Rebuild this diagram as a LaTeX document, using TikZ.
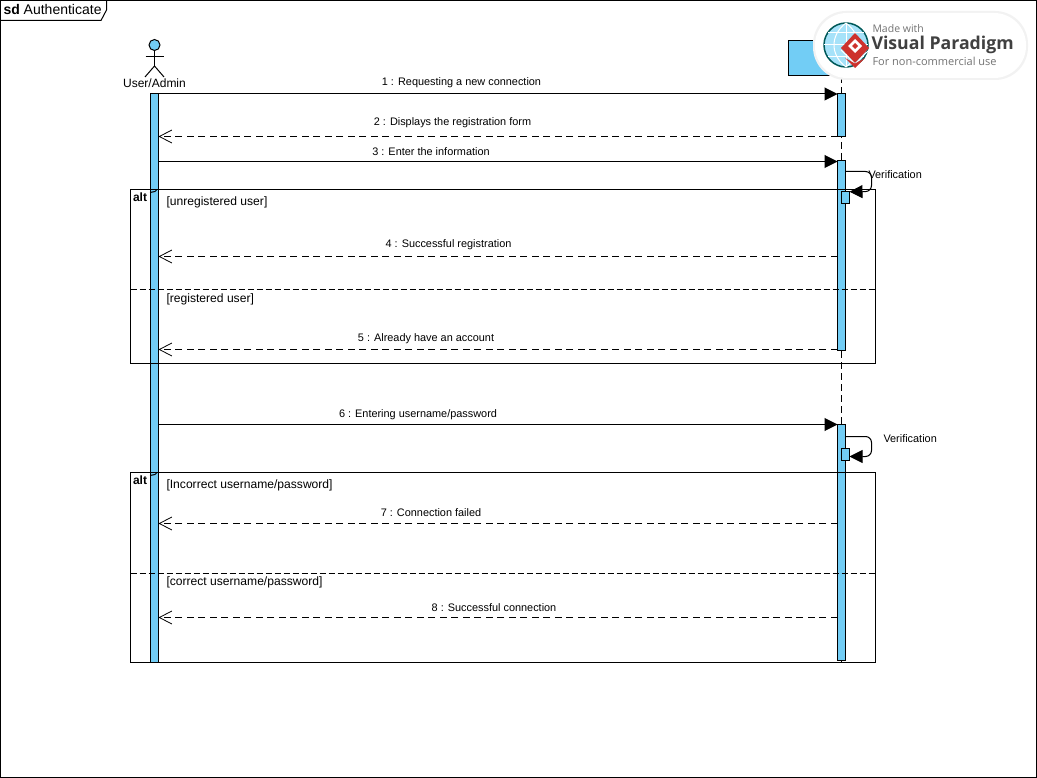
\documentclass[tikz,border=0pt]{standalone}
\usepackage{fontspec}
\setmainfont{Liberation Sans}
\newfontfamily\logofont{Open Sans}
\usetikzlibrary{arrows.meta}
\definecolor{barblue}{RGB}{114,205,245}
\definecolor{logored}{RGB}{205,50,45}
\begin{document}
\begin{tikzpicture}[
  x=1pt, y=-1pt,
  line width=1pt,
  call/.style={-{Triangle[length=13pt,width=13pt]}},
  reply/.style={-{Straight Barb[length=12.5pt,width=13pt,line width=.8pt]},dash pattern=on 7pt off 4.5pt},
  divider/.style={dash pattern=on 6pt off 3pt},
  bar/.style={draw,fill=barblue,minimum width=8pt,inner sep=0pt,outer sep=0pt},
  msg/.style={font=\fontsize{10.9}{12}\selectfont,inner sep=0pt},
  guard/.style={font=\fontsize{12.1}{14}\selectfont,inner sep=0pt,anchor=west},
  altlabel/.style={font=\fontsize{12}{14}\selectfont\bfseries,inner sep=0pt,anchor=west},
  logotext/.style={inner sep=0pt,anchor=west,text=black!55,font=\logofont\fontsize{10.5}{12}\selectfont}
  ]
\useasboundingbox (0,0) rectangle (1037,778);
\fill [white] (0,0) rectangle (1037,778);
% outer frame
\draw (0.5,0.5) rectangle (1036.5,777.5);
\draw (0.5,20.5) -- (101,20.5) -- (106.5,10) -- (106.5,0.5);
\node [inner sep=0pt,anchor=west] (title) at (3,9.5) {\fontsize{14}{16}\selectfont\textbf{sd} Authenticate};
% actor
\node [circle,draw,fill=barblue,minimum size=11pt,inner sep=0pt] (head) at (154.5,45) {};
\coordinate (hip) at (154.5,66);
\coordinate (armleft) at (145.5,56.5);
\coordinate (armright) at (163.5,56.5);
\coordinate (legleft) at (145,77);
\coordinate (legright) at (164,77);
\draw (head) -- (hip);
\draw (armleft) -- (armright);
\draw (legleft) -- (hip) -- (legright);
\node [inner sep=0pt,font=\fontsize{12}{14}\selectfont] (actor) at (154.5,83) {User/Admin};
% object box
\node [draw,fill=barblue,minimum width=106pt,minimum height=35pt,inner sep=0pt] (system) at (841,58) {};
% lifeline
\coordinate (lifeend) at (841.5,663);
\draw [dash pattern=on 7pt off 4pt] (system.south -| lifeend) -- (lifeend);
% activation bars
\node [bar,minimum height=568pt] (userbar) at (154.5,378) {};
\node [bar,minimum height=43pt] (sysbarA) at (841.5,115.5) {};
\node [bar,minimum height=189pt] (sysbarB) at (841.5,255.5) {};
\node [bar,minimum height=236pt] (sysbarC) at (841.5,542.5) {};
\node [bar,minimum height=11.5pt] (selfbarA) at (845.5,197.5) {};
\node [bar,minimum height=12pt] (selfbarB) at (845.5,454.5) {};
% alt frames
\draw (130.5,189.5) rectangle (875.5,363);
\draw [divider] (130.5,289.5) -- (875.5,289.5);
\draw (150,192.5) -- (155,191.5) -- (157,189.5);
\node [altlabel] (altA) at (132.5,197.5) {alt};
\node [guard] (guardA) at (166,202) {[unregistered user]};
\node [guard] (guardB) at (166,299) {[registered user]};
\draw (130.5,472.5) rectangle (875.5,662.5);
\draw [divider] (130.5,573) -- (875.5,573);
\draw (150,475.5) -- (155,474.5) -- (157,472.5);
\node [altlabel] (altB) at (132.5,480.5) {alt};
\node [guard] (guardC) at (166,485) {[Incorrect username/password]};
\node [guard] (guardD) at (166,582) {[correct username/password]};
% messages
\coordinate (u1) at (158.5,94);
\coordinate (s1) at (837.5,94);
\draw [call] (u1) -- (s1);
\node [msg] (m1) at (461.5,83) {1 : Requesting a new connection};
\coordinate (u2) at (158.5,136.5);
\coordinate (s2) at (837.5,136.5);
\draw [reply] (s2) -- (u2);
\node [msg] (m2) at (452.5,123) {2 : Displays the registration form};
\coordinate (u3) at (158.5,161.5);
\coordinate (s3) at (837.5,161.5);
\draw [call] (u3) -- (s3);
\node [msg] (m3) at (431,152) {3 : Enter the information};
\coordinate (u4) at (158.5,256.5);
\coordinate (s4) at (837.5,256.5);
\draw [reply] (s4) -- (u4);
\node [msg] (m4) at (448.5,245) {4 : Successful registration};
\coordinate (u5) at (158.5,349.5);
\coordinate (s5) at (837.5,349.5);
\draw [reply] (s5) -- (u5);
\node [msg] (m5) at (426,339) {5 : Already have an account};
\coordinate (u6) at (158.5,424.5);
\coordinate (s6) at (837.5,424.5);
\draw [call] (u6) -- (s6);
\node [msg] (m6) at (418,415) {6 : Entering username/password};
\coordinate (u7) at (158.5,523.5);
\coordinate (s7) at (837.5,523.5);
\draw [reply] (s7) -- (u7);
\node [msg] (m7) at (431,513) {7 : Connection failed};
\coordinate (u8) at (158.5,617.5);
\coordinate (s8) at (837.5,617.5);
\draw [reply] (s8) -- (u8);
\node [msg] (m8) at (494,608) {8 : Successful connection};
% self messages
\coordinate (selfAa) at (845.5,171.5);
\coordinate (selfAb) at (871.5,191.5);
\draw [call,rounded corners=6pt] (selfAa) -| (selfAb) -- (selfbarA.north east);
\node [msg,anchor=west] (verifA) at (868,174.5) {Verification};
\coordinate (selfBa) at (845.5,436.5);
\coordinate (selfBb) at (871.5,456.5);
\draw [call,rounded corners=6pt] (selfBa) -| (selfBb) -- (selfbarB.east |- selfBb);
\node [msg,anchor=west] (verifB) at (883,438.5) {Verification};
% watermark
\fill [black!5,rounded corners=33pt] (813,11) rectangle (1028,80);
\fill [white,rounded corners=32pt] (815,13) rectangle (1026,78);
\node [circle,draw=teal!70!black,fill=cyan!35,line width=1.5pt,minimum size=44pt,inner sep=0pt] (globe) at (846,45) {};
\draw [white,line width=1pt] (846,23) -- (846,67) (824,45) -- (868,45) (828,33) -- (864,33) (828,57) -- (864,57);
\draw [white,line width=1pt] (846,23) .. controls (830,35) and (830,55) .. (846,67);
\draw [white,line width=1pt] (846,23) .. controls (862,35) and (862,55) .. (846,67);
\fill [logored] (855,33) -- (869,48) -- (855,63) -- (841,48) -- cycle;
\fill [white] (855,39) -- (862,46) -- (855,53) -- (848,46) -- cycle;
\fill [logored] (855,43) -- (858,46) -- (855,49) -- (852,46) -- cycle;
\draw [white,line width=1pt] (841,50) -- (855,64) -- (869,50);
\fill [logored] (845,58) -- (855,68) -- (865,58) -- (855,63.5) -- cycle;
\node [logotext] (made) at (872,29) {Made with};
\node [logotext,text=black!75,font=\logofont\fontsize{17.7}{20}\selectfont\bfseries] (brand) at (871,45) {Visual Paradigm};
\node [logotext,font=\logofont\fontsize{11}{12}\selectfont] (usage) at (872,61) {For non-commercial use};
\end{tikzpicture}
\end{document}
